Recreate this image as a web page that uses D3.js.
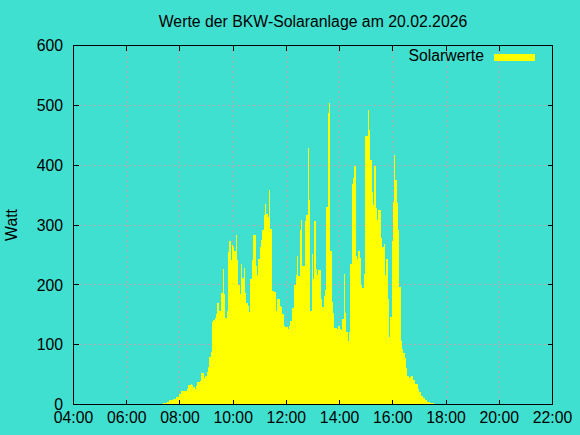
<!DOCTYPE html>
<html>
<head>
<meta charset="utf-8">
<script src="https://cdn.jsdelivr.net/npm/d3@7"></script>
<style>
  html, body { margin: 0; padding: 0; background: #40E0D0; }
  svg { display: block; }
  text { font-family: "Liberation Sans", Arial, sans-serif; fill: #000; }
</style>
</head>
<body>
<svg id="chart" width="580" height="435"></svg>
<script>
// ---- data ----
const chartTitle = "Werte der BKW-Solaranlage am 20.02.2026";
const yAxisTitle = "Watt";
const seriesName = "Solarwerte";
const startTime = "07:21";        // first sample
const intervalMinutes = 3;        // sample spacing
const watts = [
  3,3,3,5,5,7,7,7,9,9,
  12,12,18,18,22,22,22,22,26,33,
  33,35,33,29,26,31,37,37,39,52,
  53,45,48,54,63,80,87,138,142,144,
  152,170,156,156,186,227,184,145,157,255,
  273,242,267,263,257,284,241,200,185,235,
  212,228,186,169,165,154,210,242,284,284,
  231,216,244,263,275,291,316,335,319,314,
  359,294,190,190,188,157,177,177,165,163,
  152,132,130,130,126,132,139,161,161,199,
  216,249,214,292,309,232,232,307,316,429,
  342,156,251,210,306,227,217,224,224,177,
  163,182,192,330,487,504,256,171,153,128,
  128,126,131,127,124,143,218,153,121,106,
  121,234,369,379,399,248,243,256,245,200,
  194,218,448,448,493,458,409,355,334,398,
  329,309,325,325,278,263,268,216,243,177,
  112,147,274,338,417,376,336,291,197,106,
  93,86,77,61,47,45,46,48,41,41,
  34,34,26,21,15,15,11,8,8,5,
  5,2,2,2
];
const xTickLabels = ["04:00","06:00","08:00","10:00","12:00","14:00","16:00","18:00","20:00","22:00"];
const yTicks = [0,100,200,300,400,500,600];

// ---- helpers ----
const toHours = s => { const [h, m] = s.split(":").map(Number); return h + m / 60; };
const t0 = toHours(startTime);
const points = watts.map((v, i) => ({ t: t0 + i * intervalMinutes / 60, v }));
points.push({ t: t0 + watts.length * intervalMinutes / 60, v: watts[watts.length - 1] });

// ---- layout ----
const L = 73.5, R = 552.5, T = 45.5, B = 404.5;
const x = d3.scaleLinear().domain([toHours(xTickLabels[0]), toHours(xTickLabels[xTickLabels.length - 1])]).range([L, R]);
const y = d3.scaleLinear().domain([0, 600]).range([B, T]);

const svg = d3.select("#chart");
svg.append("rect").attr("width", 580).attr("height", 435).attr("fill", "#40E0D0");

// grid
const gridColor = "#c8a0a8";
const grid = svg.append("g").attr("stroke", gridColor).attr("stroke-width", 1)
  .attr("stroke-dasharray", "2,3").attr("shape-rendering", "crispEdges");
xTickLabels.slice(1, -1).forEach(lbl => {
  const xx = x(toHours(lbl));
  grid.append("line").attr("x1", xx).attr("x2", xx).attr("y1", T).attr("y2", B);
});
yTicks.slice(1, -1).forEach(v => {
  grid.append("line").attr("x1", L).attr("x2", R).attr("y1", y(v)).attr("y2", y(v));
});

// data area
const area = d3.area()
  .x(d => x(d.t))
  .y0(y(0))
  .y1(d => y(d.v))
  .curve(d3.curveStepAfter);
svg.append("path").datum(points).attr("d", area)
  .attr("fill", "#FFFF00").attr("shape-rendering", "crispEdges");

// frame
svg.append("rect").attr("x", L).attr("y", T).attr("width", R - L).attr("height", B - T)
  .attr("fill", "none").attr("stroke", "#000").attr("stroke-width", 1).attr("shape-rendering", "crispEdges");

// ticks
const tk = svg.append("g").attr("stroke", "#000").attr("stroke-width", 1).attr("shape-rendering", "crispEdges");
xTickLabels.forEach(lbl => {
  const xx = x(toHours(lbl));
  tk.append("line").attr("x1", xx).attr("x2", xx).attr("y1", B).attr("y2", B - 5);
  tk.append("line").attr("x1", xx).attr("x2", xx).attr("y1", T).attr("y2", T + 5);
});
yTicks.forEach(v => {
  tk.append("line").attr("x1", L).attr("x2", L + 5).attr("y1", y(v)).attr("y2", y(v));
  tk.append("line").attr("x1", R).attr("x2", R - 5).attr("y1", y(v)).attr("y2", y(v));
});

// tick labels
const fs = 15.8;
svg.append("g").selectAll("text").data(xTickLabels).join("text")
  .attr("x", d => x(toHours(d))).attr("y", 423)
  .attr("text-anchor", "middle").attr("font-size", fs).text(d => d);
svg.append("g").selectAll("text").data(yTicks).join("text")
  .attr("x", 63).attr("y", d => y(d)).attr("dy", "0.36em")
  .attr("text-anchor", "end").attr("font-size", fs).text(d => d);

// titles
svg.append("text").attr("x", (L + R) / 2).attr("y", 27).attr("text-anchor", "middle")
  .attr("font-size", fs).text(chartTitle);
svg.append("text").attr("transform", `translate(17,${(T + B) / 2}) rotate(-90)`)
  .attr("text-anchor", "middle").attr("font-size", fs).text(yAxisTitle);

// legend
svg.append("text").attr("x", 484).attr("y", 60.5).attr("text-anchor", "end")
  .attr("font-size", fs).text(seriesName);
svg.append("rect").attr("x", 494).attr("y", 54).attr("width", 41).attr("height", 7)
  .attr("fill", "#FFFF00");
</script>
</body>
</html>
